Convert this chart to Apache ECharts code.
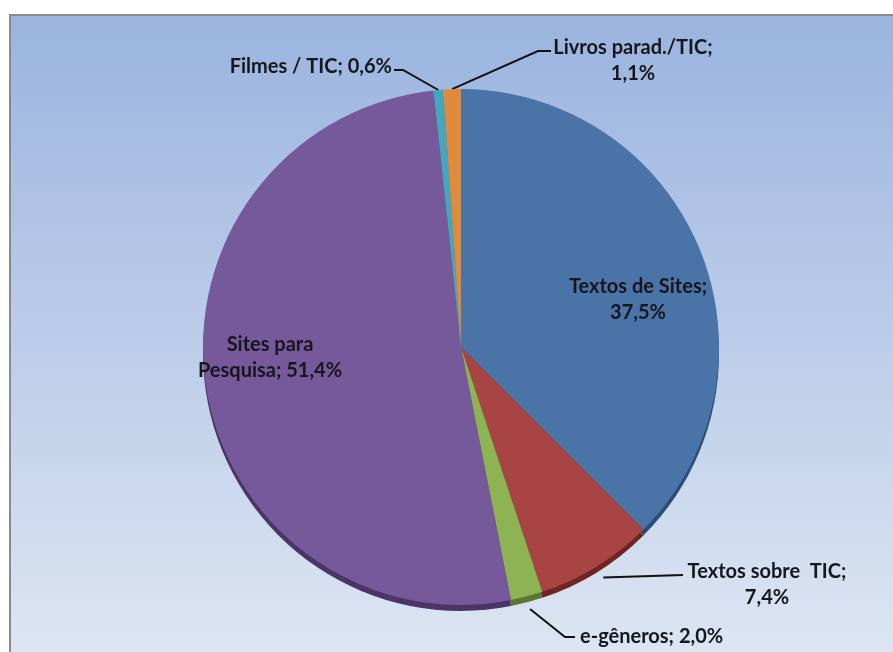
<!DOCTYPE html>
<html>
<head>
<meta charset="utf-8">
<script src="https://cdn.jsdelivr.net/npm/echarts@6/dist/echarts.min.js"></script>
<style>
  html, body { margin: 0; padding: 0; background: #ffffff; }
  #chart { width: 893px; height: 652px; }
</style>
</head>
<body>
<div id="chart"></div>
<script>
// Slice names, shares (%) and the text shown for each slice
const categories = ['Textos de Sites', 'Textos sobre  TIC', 'e-gêneros', 'Sites para\nPesquisa', 'Filmes / TIC', 'Livros parad./TIC'];
const shares = [37.5, 7.4, 2.0, 51.4, 0.6, 1.1];
const labelTexts = ['Textos de Sites;\n37,5%', 'Textos sobre  TIC;\n7,4%', 'e-gêneros; 2,0%', 'Sites para\nPesquisa; 51,4%', 'Filmes / TIC; 0,6%', 'Livros parad./TIC;\n1,1%'];

const topColors  = ['#4A74A8', '#A84442', '#8DB352', '#76599A', '#45A6BC', '#E08B3C'];
const sideColors = ['#2E4D75', '#6E2523', '#5A7630', '#4A3566', '#2A6F80', '#9A5A20'];

const CX = 461, CY = 347, R = 258;

// Label anchors, as offsets from the pie centre, plus leader-line bends.
// "reach" pushes the leader start down onto the pie's rim edge.
const labelPlace = [
  { dx: 177, dy: -47, align: 'center', inside: true },
  { dx: 306, dy: 238, align: 'center', reach: 1.05, bend: [[222, 228]] },
  { dx: 119, dy: 290, align: 'left', reach: 1.05, bend: [[104, 290], [114, 290]] },
  { dx: -191, dy: 11, align: 'center', inside: true },
  { dx: -69, dy: -280, align: 'right', reach: 1, bend: [[-58, -277], [-67, -277]] },
  { dx: 172, dy: -286, align: 'center', reach: 1, bend: [[77, -296], [90, -296]] }
];

const chart = echarts.init(document.getElementById('chart'));

const faceData = categories.map((name, i) => ({
  name: name,
  value: shares[i],
  itemStyle: { color: topColors[i] },
  label: { formatter: labelTexts[i], position: labelPlace[i].inside ? 'inside' : 'outside' },
  labelLine: { show: !labelPlace[i].inside }
}));

const sideData = categories.map((name, i) => ({
  name: name,
  value: shares[i],
  itemStyle: { color: sideColors[i] }
}));

chart.setOption({
  animation: false,
  graphic: [{
    type: 'rect',
    z: -10,
    shape: { x: 10, y: 15, width: 900, height: 650 },
    style: {
      fill: new echarts.graphic.LinearGradient(0, 0, 0, 1, [
        { offset: 0, color: '#9AB4DF' },
        { offset: 1, color: '#DEE6F3' }
      ]),
      stroke: '#8A8A8A',
      lineWidth: 2
    }
  }],
  series: [
    {
      type: 'pie',
      silent: true,
      center: [CX, CY + 6],
      radius: R,
      startAngle: 90,
      clockwise: true,
      z: 1,
      label: { show: false },
      labelLine: { show: false },
      data: sideData
    },
    {
      type: 'pie',
      center: [CX, CY],
      radius: R,
      startAngle: 90,
      clockwise: true,
      z: 2,
      itemStyle: { borderWidth: 0 },
      label: {
        show: true,
        color: '#16161c',
        fontFamily: 'Lato',
        fontWeight: 'bold',
        fontSize: 20,
        lineHeight: 26,
        align: 'center'
      },
      labelLine: {
        show: true,
        lineStyle: { color: '#111111', width: 2 }
      },
      labelLayout: function (params) {
        const p = labelPlace[params.dataIndex];
        const out = {
          x: CX + p.dx,
          y: CY + p.dy,
          align: p.align,
          verticalAlign: 'middle'
        };
        if (!p.inside && params.labelLinePoints) {
          const s = params.labelLinePoints[0];
          const start = [CX + (s[0] - CX) * p.reach, CY + (s[1] - CY) * p.reach];
          const pts = [start];
          p.bend.forEach(b => pts.push([CX + b[0], CY + b[1]]));
          out.labelLinePoints = pts;
        }
        return out;
      },
      data: faceData
    }
  ]
});
</script>
</body>
</html>
